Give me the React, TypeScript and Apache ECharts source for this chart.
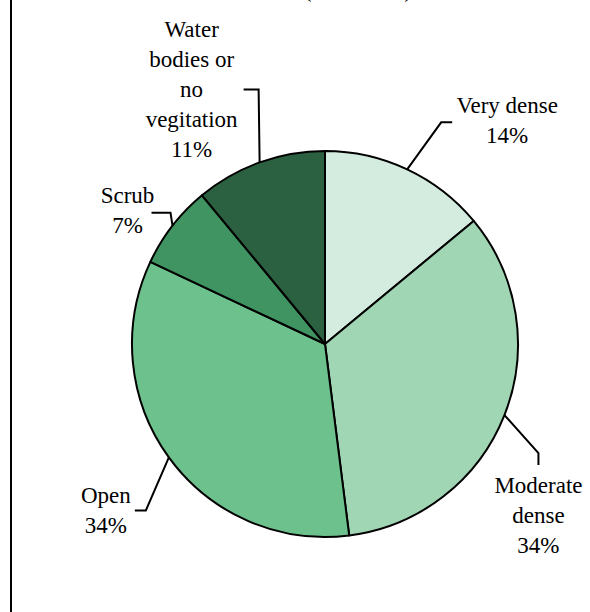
import React, { useEffect, useRef } from "react";
import * as echarts from "echarts";

// ---- data ----
const categories = ["Very dense", "Moderate dense", "Open", "Scrub", "Water bodies or no vegitation"];
const labelTexts = ["Very dense", "Moderate\ndense", "Open", "Scrub", "Water\nbodies or\nno\nvegitation"];
const values = [14, 34, 34, 7, 11];
const colors = ["#d4ecdf", "#a1d6b5", "#6dc18d", "#3f9461", "#2b6141"];
const titleText = "(Area in %)";

// ---- layout / style (not data) ----
const CX = 325;
const CY = 344;
const R = 193;
// leader lines: first leg from slice edge, second leg from elbow, label centre offset from line end
const leaderLeg1 = [[34, -47], [34, 38], [-23, 53], [-2, -13], [-1, -73]];
const leaderLeg2 = [[11, 0], [0, 12], [-11, 0], [-19, 0], [-15, 0]];
const labelOffset = [[55, -2], [0, 50], [-29, 0], [-24, -2], [-52, 0]];

const FONT = "Liberation Serif";

export default function App() {
  const ref = useRef<HTMLDivElement>(null);
  useEffect(() => {
    if (!ref.current) return;
    const chart = echarts.init(ref.current, undefined, { renderer: "svg" });
    const total = values.reduce((a, b) => a + b, 0);
    const midAngle = (idx: number) => {
      let s = 0;
      for (let i = 0; i < idx; i++) s += values[i];
      return ((s + values[idx] / 2) / total) * Math.PI * 2;
    };
    chart.setOption({
      animation: false,
      backgroundColor: "#ffffff",
      textStyle: { fontFamily: FONT },
      graphic: [
        {
          type: "line",
          shape: { x1: 11, y1: 0, x2: 11, y2: 612 },
          style: { stroke: "#000", lineWidth: 2 },
        },
        {
          type: "text",
          x: 358,
          y: -11,
          style: {
            text: titleText,
            fontFamily: FONT,
            fontSize: 23,
            fill: "#000",
            align: "center",
            verticalAlign: "middle",
          },
        },
      ],
      series: [
        {
          type: "pie",
          center: [CX, CY],
          radius: R,
          startAngle: 90,
          clockwise: true,
          avoidLabelOverlap: false,
          data: categories.map((name, i) => ({
            name,
            value: values[i],
            itemStyle: { color: colors[i] },
          })),
          itemStyle: { borderColor: "#000", borderWidth: 2 },
          label: {
            show: true,
            position: "outside",
            fontFamily: FONT,
            fontSize: 23,
            lineHeight: 30,
            color: "#000",
            align: "center",
            formatter: (p: any) =>
              labelTexts[p.dataIndex] + "\n" + Math.round((p.value / total) * 100) + "%",
          },
          labelLine: {
            show: true,
            smooth: false,
            lineStyle: { color: "#000", width: 2 },
          },
          labelLayout: (params: any) => {
            const i = params.dataIndex;
            const a = midAngle(i);
            const edge = [CX + R * Math.sin(a), CY - R * Math.cos(a)];
            const elbow = [edge[0] + leaderLeg1[i][0], edge[1] + leaderLeg1[i][1]];
            const end = [elbow[0] + leaderLeg2[i][0], elbow[1] + leaderLeg2[i][1]];
            return {
              x: end[0] + labelOffset[i][0],
              y: end[1] + labelOffset[i][1],
              align: "center",
              verticalAlign: "middle",
              labelLinePoints: [edge, elbow, end],
            };
          },
        },
      ],
    });
    return () => chart.dispose();
  }, []);
  return (
    <div
      ref={ref}
      style={{ position: "absolute", left: 0, top: 0, width: 590, height: 612, background: "#fff" }}
    />
  );
}
